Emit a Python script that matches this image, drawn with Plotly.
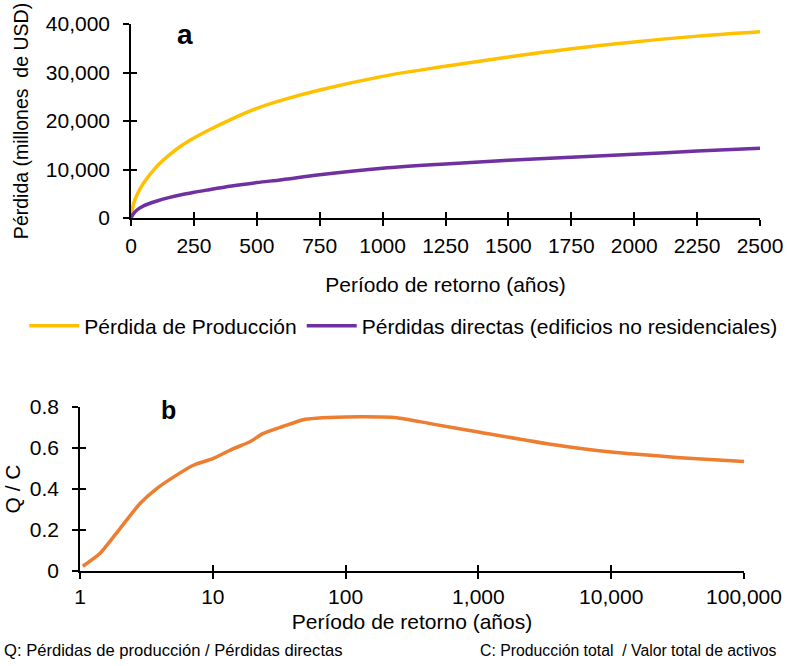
import plotly.graph_objects as go

# ---- data (panel a) ----
return_period_a = [0, 10, 25, 50, 100, 150, 200, 250, 300, 400, 500, 600, 750,
                   1000, 1250, 1500, 1750, 2000, 2250, 2500]
production_loss = [0, 2900, 4900, 7200, 10500, 12900, 14900, 16500, 17900, 20400,
                   22600, 24300, 26400, 29200, 31300, 33200, 34900, 36300, 37500, 38400]
direct_loss = [0, 900, 1700, 2500, 3450, 4200, 4800, 5300, 5750, 6600,
               7300, 7900, 8900, 10250, 11150, 11900, 12550, 13150, 13800, 14400]

# ---- data (panel b) ----
return_period_b = [1.05, 1.41, 2.0, 2.83, 3.78, 5.05, 7.14, 10, 14.3, 18.9, 23.8, 34,
                   48, 60, 100, 182, 243, 434, 1000, 3290, 10000, 33100, 100000]
q_over_c = [0.023, 0.085, 0.207, 0.329, 0.402, 0.458, 0.516, 0.548, 0.597, 0.629,
            0.670, 0.706, 0.738, 0.745, 0.751, 0.751, 0.748, 0.719, 0.678, 0.621,
            0.580, 0.553, 0.534]

series_names = ["Pérdida de Producción", "Pérdidas directas (edificios no residenciales)"]
colors = ["#FFC000", "#7030A0", "#ED7D31"]

FONT = "Liberation Sans, Arial, sans-serif"

W, H = 787, 666
# pixel boxes of plot areas
ax_a = dict(x0=131, x1=760, y0=24, y1=218)
ax_b = dict(x0=80, x1=744, y0=407, y1=571)

def dom_x(b):
    return [b["x0"] / W, b["x1"] / W]

def dom_y(b):
    return [1 - b["y1"] / H, 1 - b["y0"] / H]

fig = go.Figure()
fig.add_trace(go.Scatter(x=return_period_a, y=production_loss, mode="lines",
                         name=series_names[0], line=dict(color=colors[0], width=3.5, shape="spline"),
                         xaxis="x", yaxis="y"))
fig.add_trace(go.Scatter(x=return_period_a, y=direct_loss, mode="lines",
                         name=series_names[1], line=dict(color=colors[1], width=3.5, shape="spline"),
                         xaxis="x", yaxis="y"))
fig.add_trace(go.Scatter(x=return_period_b, y=q_over_c, mode="lines", showlegend=False,
                         line=dict(color=colors[2], width=3.5, shape="spline", smoothing=0.6),
                         xaxis="x2", yaxis="y2"))

# empty helper traces so the overlay axes (inner half of the crossing ticks) get drawn
for xa, ya in [("x3", "y"), ("x", "y3"), ("x4", "y2"), ("x2", "y4")]:
    fig.add_trace(go.Scatter(x=[None], y=[None], mode="lines", showlegend=False,
                             hoverinfo="skip", xaxis=xa, yaxis=ya))

tickfont = dict(family=FONT, size=21, color="#000")
common = dict(showline=True, linecolor="#000", linewidth=1.5, ticks="outside",
              ticklen=6, tickwidth=1.5, tickcolor="#000", showgrid=False,
              zeroline=False, tickfont=tickfont, automargin=False)
inside = dict(showline=False, ticks="inside", ticklen=6, tickwidth=1.5, tickcolor="#000",
              showgrid=False, zeroline=False, showticklabels=False, automargin=False)

fig.update_layout(
    width=W, height=H,
    margin=dict(l=0, r=0, t=0, b=0),
    paper_bgcolor="white", plot_bgcolor="white",
    font=dict(family=FONT, size=21, color="#000"),
    xaxis=dict(domain=dom_x(ax_a), anchor="y", range=[0, 2500], tick0=0, dtick=250,
               ticklabelstandoff=2,
               title=dict(text="Período de retorno (años)", standoff=21,
                          font=dict(family=FONT, size=21)), **common),
    yaxis=dict(domain=dom_y(ax_a), anchor="x", range=[0, 40000], tick0=0, dtick=10000,
               tickformat=",", ticklabelstandoff=9,
               title=dict(text="Pérdida (millones\u00a0\u00a0de USD)", standoff=12,
                          font=dict(family=FONT, size=19.5)), **common),
    xaxis3=dict(domain=dom_x(ax_a), anchor="y", overlaying="x", range=[0, 2500],
                tick0=0, dtick=250, **inside),
    yaxis3=dict(domain=dom_y(ax_a), anchor="x", overlaying="y", range=[0, 40000],
                tick0=0, dtick=10000, **inside),
    xaxis2=dict(domain=dom_x(ax_b), anchor="y2", type="log", range=[0, 5], dtick=1,
                tickformat=",", ticklabelstandoff=0,
                title=dict(text="Período de retorno (años)", standoff=7,
                           font=dict(family=FONT, size=21)), **common),
    yaxis2=dict(domain=dom_y(ax_b), anchor="x2", range=[0, 0.8], tick0=0, dtick=0.2,
                ticklabelstandoff=9,
                title=dict(text="Q / C", standoff=3, font=dict(family=FONT, size=21)),
                **common),
    xaxis4=dict(domain=dom_x(ax_b), anchor="y2", overlaying="x2", type="log",
                range=[0, 5], dtick=1, **inside),
    yaxis4=dict(domain=dom_y(ax_b), anchor="x2", overlaying="y2", range=[0, 0.8],
                tick0=0, dtick=0.2, **inside),
    legend=dict(orientation="h", x=0.513, xanchor="center", y=1 - 326 / H, yanchor="middle",
                font=dict(family=FONT, size=21), itemwidth=50, bgcolor="rgba(0,0,0,0)",
                traceorder="normal"),
    showlegend=True,
)

annotations = [
    dict(text="<b>a</b>", x=185 / W, y=1 - 35 / H, font=dict(family=FONT, size=28)),
    dict(text="<b>b</b>", x=168 / W, y=1 - 410 / H, font=dict(family=FONT, size=25)),
    dict(text="Q: Pérdidas de producción / Pérdidas directas", x=2 / W, y=1 - 650 / H,
         xanchor="left", font=dict(family=FONT, size=16.6)),
    dict(text="C: Producción total \u00a0/ Valor total de activos", x=478 / W, y=1 - 650 / H,
         xanchor="left", font=dict(family=FONT, size=15.8)),
]
for a in annotations:
    a.update(xref="paper", yref="paper", showarrow=False)
    a.setdefault("xanchor", "center")
    a.setdefault("yanchor", "middle")
fig.update_layout(annotations=annotations)

fig.write_html("out.html")
